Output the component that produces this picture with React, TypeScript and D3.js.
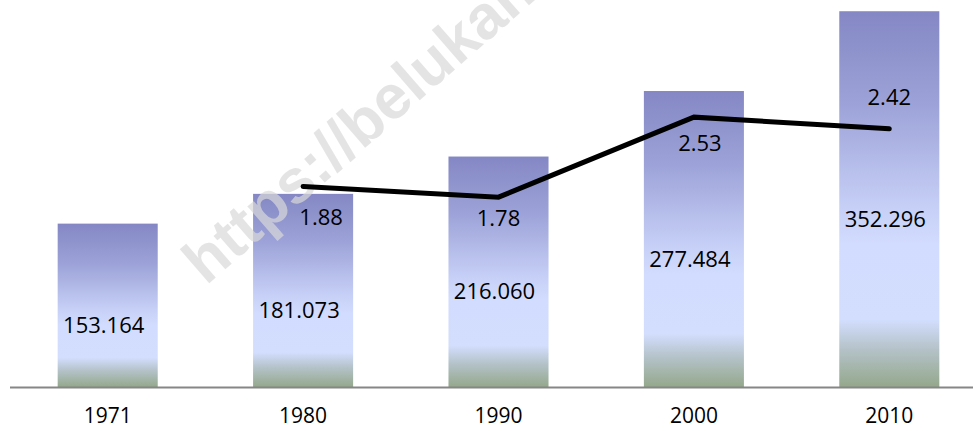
import { useEffect, useRef } from 'react';
import * as d3 from 'd3';

const years = ['1971', '1980', '1990', '2000', '2010'];
const barValues = [153.164, 181.073, 216.06, 277.484, 352.296];
const barLabels = ['153.164', '181.073', '216.060', '277.484', '352.296'];
// line series starts at 1980
const lineYears = ['1980', '1990', '2000', '2010'];
const lineValues = [1.88, 1.78, 2.53, 2.42];
const lineLabels = ['1.88', '1.78', '2.53', '2.42'];

const W = 973;
const H = 431;

export default function App() {
  const svgRef = useRef<SVGSVGElement>(null);

  useEffect(() => {
    if (!svgRef.current) return;
    const svg = d3.select(svgRef.current);
    svg.selectAll('*').remove();

    const baseline = 387;
    const font = '"Open Sans", sans-serif';

    const x = d3.scaleBand().domain(years).range([10, 987]).paddingInner(0.488).paddingOuter(0.244);
    const y = d3.scaleLinear().domain([0, 360]).range([baseline, 3]);
    const y2 = d3.scaleLinear().domain([0, 3.6]).range([baseline, 3]);
    const cx = (d: string) => (x(d) || 0) + x.bandwidth() / 2;

    // bar gradient
    const grad = svg
      .append('defs')
      .append('linearGradient')
      .attr('id', 'bar-grad')
      .attr('x1', 0)
      .attr('y1', 0)
      .attr('x2', 0)
      .attr('y2', 1);
    const stops: [string, string][] = [
      ['0%', '#8487c4'],
      ['25%', '#9da3d8'],
      ['52%', '#c6cff6'],
      ['62%', '#d2dcfe'],
      ['82%', '#d3defe'],
      ['90%', '#b4c2c8'],
      ['100%', '#94a88b'],
    ];
    stops.forEach(([o, c]) => grad.append('stop').attr('offset', o).attr('stop-color', c));

    // bars
    svg
      .append('g')
      .selectAll('rect')
      .data(barValues)
      .enter()
      .append('rect')
      .attr('x', (_, i) => x(years[i]) || 0)
      .attr('y', (d) => y(d))
      .attr('width', x.bandwidth())
      .attr('height', (d) => baseline - y(d))
      .attr('fill', 'url(#bar-grad)');

    // axis line
    svg
      .append('line')
      .attr('x1', 10)
      .attr('x2', W)
      .attr('y1', baseline + 0.5)
      .attr('y2', baseline + 0.5)
      .attr('stroke', '#868686')
      .attr('stroke-width', 2);

    // x labels
    svg
      .append('g')
      .selectAll('text')
      .data(years)
      .enter()
      .append('text')
      .attr('x', (d) => cx(d))
      .attr('y', 416)
      .attr('dy', '0.35em')
      .attr('text-anchor', 'middle')
      .attr('font-family', font)
      .attr('font-size', 21)
      .attr('fill', '#000')
      .text((d) => d);

    // bar value labels
    svg
      .append('g')
      .selectAll('text')
      .data(barValues)
      .enter()
      .append('text')
      .attr('x', (_, i) => cx(years[i]) - 4)
      .attr('y', (d) => (y(d) + baseline) / 2 + 20)
      .attr('dy', '0.35em')
      .attr('text-anchor', 'middle')
      .attr('font-family', font)
      .attr('font-size', 22)
      .attr('fill', '#000')
      .text((_, i) => barLabels[i]);

    // watermark
    svg
      .append('text')
      .attr('transform', 'translate(206,286) rotate(-41)')
      .attr('font-family', '"Liberation Sans", Arial, sans-serif')
      .attr('font-weight', 'bold')
      .attr('font-size', 62)
      .attr('fill', '#d9d9d9')
      .attr('fill-opacity', 0.7)
      .text('https://belukar.com');

    // line
    const line = d3
      .line<number>()
      .x((_, i) => cx(lineYears[i]))
      .y((d) => y2(d));
    svg
      .append('path')
      .datum(lineValues)
      .attr('d', line)
      .attr('fill', 'none')
      .attr('stroke', '#000')
      .attr('stroke-width', 5)
      .attr('stroke-linecap', 'round');

    // line labels, Excel-ish placement nudges
    const nudge: [number, number][] = [
      [18, 31],
      [0, 21],
      [6, 26],
      [0, -32],
    ];
    svg
      .append('g')
      .selectAll('text')
      .data(lineValues)
      .enter()
      .append('text')
      .attr('x', (_, i) => cx(lineYears[i]) + nudge[i][0])
      .attr('y', (d, i) => y2(d) + nudge[i][1])
      .attr('dy', '0.35em')
      .attr('text-anchor', 'middle')
      .attr('font-family', font)
      .attr('font-size', 22)
      .attr('fill', '#000')
      .text((_, i) => lineLabels[i]);
  }, []);

  return (
    <svg
      ref={svgRef}
      width={W}
      height={H}
      style={{ position: 'absolute', left: 0, top: 0, background: '#fff' }}
    />
  );
}
